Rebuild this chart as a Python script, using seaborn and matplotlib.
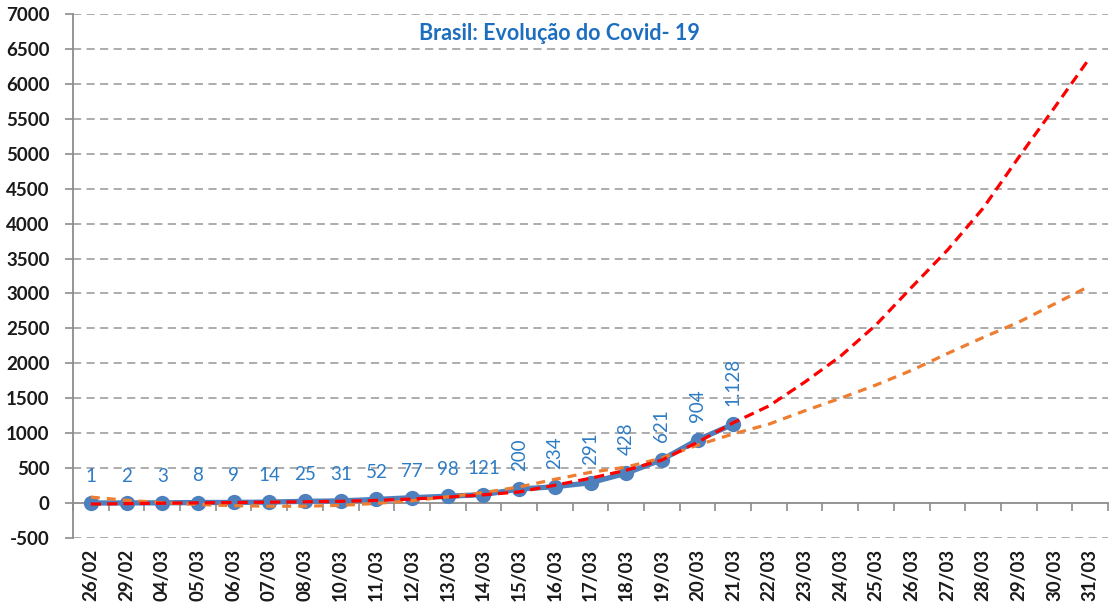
import matplotlib
matplotlib.use("Agg")
import matplotlib.pyplot as plt
import seaborn as sns
import pandas as pd

dates = ['26/02', '29/02', '04/03', '05/03', '06/03', '07/03', '08/03', '10/03',
         '11/03', '12/03', '13/03', '14/03', '15/03', '16/03', '17/03', '18/03',
         '19/03', '20/03', '21/03', '22/03', '23/03', '24/03', '25/03', '26/03',
         '27/03', '28/03', '29/03', '30/03', '31/03']
cases = [1, 2, 3, 8, 9, 14, 25, 31, 52, 77, 98, 121, 200, 234, 291, 428, 621, 904, 1128]
case_labels = ['1', '2', '3', '8', '9', '14', '25', '31', '52', '77', '98', '121',
               '200', '234', '291', '428', '621', '904', '1.128']
trend_red = [-15, -8, -2, 3, 8, 13, 18, 25, 38, 58, 85, 118, 160, 255, 355, 470,
             615, 870, 1150, 1390, 1730, 2100, 2550, 3090, 3620, 4220, 4950, 5660, 6380]
trend_orange = [85, 40, 5, -20, -38, -45, -45, -32, -5, 35, 90, 150, 230, 340, 440,
                515, 645, 830, 990, 1130, 1320, 1500, 1690, 1900, 2140, 2370, 2590,
                2850, 3110]
y_ticks = list(range(-500, 7001, 500))
title = "Brasil: Evolução do Covid- 19"

sns.set_theme(style="white")
plt.rcParams['font.family'] = ['Lato', 'DejaVu Sans']

pos = list(range(len(dates)))
df_cases = pd.DataFrame({"x": pos[:len(cases)], "y": cases})
df_red = pd.DataFrame({"x": pos, "y": trend_red})
df_orange = pd.DataFrame({"x": pos, "y": trend_orange})

fig = plt.figure(figsize=(11.11, 6.07), dpi=100)
ax = fig.add_axes([73 / 1111, 1 - 538 / 607, (1108 - 73) / 1111, (538 - 14) / 607])

grid_color = "#A6A6A6"
for v in y_ticks:
    if v != 0:
        ax.axhline(v, color=grid_color, lw=1.3, ls=(0, (4.5, 3)), zorder=0)

blue = "#4D80BD"
sns.lineplot(data=df_cases, x="x", y="y", ax=ax, color=blue, lw=3.8,
             marker="o", markersize=11, markeredgewidth=0, sort=False, zorder=3)
sns.lineplot(data=df_orange, x="x", y="y", ax=ax, color="#ED7D31", lw=2.3,
             ls=(0, (2.8, 2.2)), sort=False, zorder=4)
sns.lineplot(data=df_red, x="x", y="y", ax=ax, color="#FF0000", lw=2.3,
             ls=(0, (3.2, 1.9)), sort=False, zorder=5)

label_color = "#2E7CC4"
for i, (v, lab) in enumerate(zip(cases, case_labels)):
    rot = 0 if i < 12 else 90
    ax.annotate(lab, (i, v), xytext=(0, 13), textcoords="offset points",
                ha="center", va="bottom", rotation=rot, color=label_color,
                fontsize=13.5, zorder=6)

ax.set_xlim(-0.5, len(dates) - 0.5)
ax.set_ylim(-500, 7000)
ax.set_yticks(y_ticks)
ax.set_yticklabels([str(v) for v in y_ticks], fontsize=13.5, fontweight="bold",
                   color="#1A1A1A")
ax.tick_params(axis="y", direction="out", length=6, width=1.2, color="#8C8C8C", pad=11,
               left=True)

ax.spines["top"].set_visible(False)
ax.spines["right"].set_visible(False)
ax.spines["left"].set_color("#8C8C8C")
ax.spines["left"].set_linewidth(1.3)
ax.spines["bottom"].set_position(("data", 0))
ax.spines["bottom"].set_color("#8C8C8C")
ax.spines["bottom"].set_linewidth(1.3)

ax.set_xticks([p - 0.5 for p in pos] + [len(dates) - 0.5])
ax.set_xticklabels([])
ax.tick_params(axis="x", direction="out", length=6, width=1.2, color="#8C8C8C",
               bottom=True)
ax.set_xlabel("")
ax.set_ylabel("")

sec = ax.secondary_xaxis(0)
sec.set_xticks(pos)
sec.set_xticklabels(dates, rotation=90, fontsize=13.5, fontweight="bold",
                    color="#1A1A1A", va="top", ha="center")
sec.tick_params(axis="x", length=0, pad=8)
sec.spines["bottom"].set_visible(False)

fig.text(559 / 1111, 1 - 33 / 607, title, ha="center", va="center",
         fontsize=15.5, fontweight="bold", color="#1E6EC0")

fig.savefig("out.png", dpi=100, facecolor="white")
